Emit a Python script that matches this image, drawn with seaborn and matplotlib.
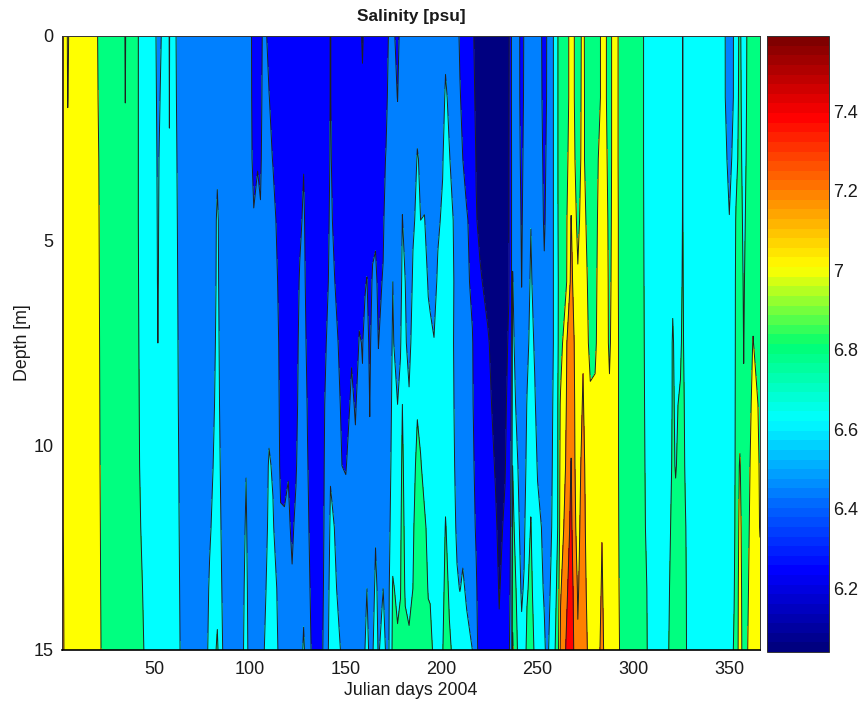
import numpy as np
import pandas as pd
import seaborn as sns
import matplotlib
matplotlib.use('Agg')
import matplotlib.pyplot as plt
from matplotlib.cm import ScalarMappable
from matplotlib.colors import Normalize, ListedColormap

# depth levels of each profile [m]
depths = [0, 1.5, 3, 4.5, 6, 7.5, 9, 10.5, 12, 13.5, 15]

# salinity profiles, one row per day
profiles = [
    (2, [7.25, 7.25, 7.25, 7.25, 7.25, 7.25, 7.25, 7.25, 7.25, 7.28, 7.3]),
    (4, [7.1, 7.1, 7.1, 7.1, 7.1, 7.1, 7.1, 7.1, 7.1, 7.1, 7.1]),
    (5, [6.97, 6.99, 7.05, 7.1, 7.1, 7.1, 7.1, 7.1, 7.1, 7.1, 7.1]),
    (7, [7.1, 7.1, 7.1, 7.1, 7.1, 7.1, 7.1, 7.1, 7.1, 7.1, 7.1]),
    (20, [7.02, 7.03, 7.05, 7.06, 7.07, 7.08, 7.09, 7.1, 7.12, 7.14, 7.17]),
    (24, [6.88, 6.88, 6.88, 6.88, 6.88, 6.88, 6.88, 6.88, 6.88, 6.88, 6.88]),
    (34, [6.88, 6.88, 6.88, 6.88, 6.88, 6.88, 6.88, 6.88, 6.88, 6.88, 6.88]),
    (35, [6.78, 6.795, 6.85, 6.88, 6.88, 6.88, 6.88, 6.88, 6.88, 6.88, 6.88]),
    (36, [6.88, 6.88, 6.88, 6.88, 6.88, 6.88, 6.88, 6.88, 6.88, 6.88, 6.88]),
    (40, [6.865, 6.865, 6.865, 6.865, 6.865, 6.865, 6.865, 6.865, 6.865, 6.865, 6.865]),
    (44, [6.72, 6.72, 6.72, 6.72, 6.73, 6.74, 6.75, 6.76, 6.78, 6.8, 6.83]),
    (47, [6.7, 6.7, 6.7, 6.7, 6.7, 6.7, 6.7, 6.7, 6.7, 6.7, 6.7]),
    (50.5, [6.68, 6.68, 6.68, 6.68, 6.68, 6.68, 6.68, 6.68, 6.68, 6.68, 6.68]),
    (52, [6.45, 6.52, 6.56, 6.575, 6.585, 6.6, 6.66, 6.7, 6.7, 6.7, 6.7]),
    (54, [6.62, 6.66, 6.7, 6.7, 6.7, 6.7, 6.7, 6.7, 6.7, 6.7, 6.7]),
    (57, [6.7, 6.7, 6.7, 6.7, 6.7, 6.7, 6.7, 6.7, 6.7, 6.7, 6.7]),
    (58, [6.585, 6.595, 6.605, 6.64, 6.68, 6.7, 6.7, 6.7, 6.7, 6.7, 6.7]),
    (59, [6.7, 6.7, 6.7, 6.7, 6.7, 6.7, 6.7, 6.7, 6.7, 6.7, 6.7]),
    (61, [6.614, 6.62, 6.63, 6.64, 6.65, 6.66, 6.67, 6.69, 6.71, 6.74, 6.78]),
    (65, [6.5, 6.5, 6.5, 6.5, 6.5, 6.5, 6.5, 6.5, 6.5, 6.5, 6.5]),
    (76, [6.5, 6.5, 6.5, 6.5, 6.5, 6.5, 6.5, 6.5, 6.5, 6.5, 6.5]),
    (79, [6.5, 6.5, 6.5, 6.5, 6.5, 6.51, 6.53, 6.55, 6.58, 6.62, 6.65]),
    (83, [6.5, 6.5, 6.585, 6.615, 6.62, 6.63, 6.64, 6.66, 6.69, 6.74, 6.83]),
    (87, [6.5, 6.5, 6.5, 6.5, 6.5, 6.5, 6.5, 6.5, 6.5, 6.5, 6.5]),
    (95, [6.5, 6.5, 6.5, 6.5, 6.5, 6.5, 6.5, 6.5, 6.5, 6.5, 6.5]),
    (98, [6.48, 6.48, 6.48, 6.5, 6.5, 6.5, 6.53, 6.595, 6.62, 6.65, 6.68]),
    (100, [6.45, 6.45, 6.45, 6.47, 6.5, 6.5, 6.5, 6.5, 6.5, 6.5, 6.5]),
    (102, [6.33, 6.34, 6.36, 6.41, 6.45, 6.5, 6.5, 6.5, 6.5, 6.5, 6.5]),
    (104, [6.34, 6.36, 6.39, 6.44, 6.5, 6.5, 6.5, 6.5, 6.5, 6.5, 6.5]),
    (105.5, [6.34, 6.36, 6.38, 6.41, 6.5, 6.5, 6.5, 6.5, 6.5, 6.5, 6.5]),
    (107.5, [6.47, 6.47, 6.47, 6.5, 6.5, 6.5, 6.5, 6.5, 6.52, 6.56, 6.6]),
    (110, [6.33, 6.405, 6.46, 6.5, 6.5, 6.5, 6.55, 6.62, 6.64, 6.67, 6.72]),
    (112, [6.3, 6.33, 6.39, 6.47, 6.5, 6.5, 6.52, 6.58, 6.62, 6.65, 6.68]),
    (114, [6.3, 6.3, 6.33, 6.38, 6.42, 6.45, 6.47, 6.49, 6.52, 6.6, 6.64]),
    (116, [6.3, 6.3, 6.3, 6.3, 6.33, 6.35, 6.36, 6.37, 6.42, 6.5, 6.5]),
    (118, [6.3, 6.3, 6.3, 6.3, 6.3, 6.3, 6.32, 6.36, 6.42, 6.46, 6.5]),
    (120, [6.3, 6.3, 6.3, 6.3, 6.3, 6.3, 6.34, 6.39, 6.43, 6.5, 6.5]),
    (122, [6.3, 6.3, 6.3, 6.3, 6.3, 6.3, 6.31, 6.33, 6.37, 6.42, 6.5]),
    (124, [6.3, 6.3, 6.3, 6.3, 6.3, 6.3, 6.33, 6.38, 6.44, 6.5, 6.5]),
    (126, [6.3, 6.3, 6.32, 6.36, 6.42, 6.47, 6.49, 6.5, 6.5, 6.5, 6.5]),
    (128, [6.3, 6.3, 6.39, 6.43, 6.45, 6.47, 6.5, 6.5, 6.5, 6.55, 6.63]),
    (130, [6.3, 6.3, 6.3, 6.31, 6.33, 6.36, 6.39, 6.41, 6.43, 6.46, 6.5]),
    (132, [6.3, 6.3, 6.3, 6.3, 6.3, 6.3, 6.3, 6.33, 6.35, 6.37, 6.395]),
    (136, [6.3, 6.3, 6.3, 6.3, 6.3, 6.3, 6.3, 6.3, 6.3, 6.3, 6.3]),
    (138, [6.3, 6.3, 6.3, 6.3, 6.3, 6.3, 6.32, 6.34, 6.36, 6.38, 6.4]),
    (140, [6.3, 6.3, 6.3, 6.32, 6.35, 6.41, 6.48, 6.5, 6.5, 6.5, 6.5]),
    (142, [6.41, 6.41, 6.42, 6.44, 6.46, 6.49, 6.54, 6.59, 6.62, 6.66, 6.72]),
    (144, [6.3, 6.3, 6.33, 6.36, 6.41, 6.45, 6.5, 6.55, 6.6, 6.63, 6.69]),
    (146, [6.3, 6.3, 6.3, 6.31, 6.34, 6.4, 6.45, 6.5, 6.52, 6.58, 6.63]),
    (148, [6.3, 6.3, 6.3, 6.3, 6.31, 6.33, 6.36, 6.4, 6.45, 6.48, 6.58]),
    (150, [6.3, 6.3, 6.3, 6.3, 6.3, 6.3, 6.33, 6.39, 6.46, 6.5, 6.5]),
    (153, [6.3, 6.3, 6.3, 6.3, 6.32, 6.38, 6.43, 6.48, 6.5, 6.5, 6.5]),
    (155, [6.3, 6.3, 6.3, 6.3, 6.3, 6.32, 6.385, 6.43, 6.5, 6.5, 6.5]),
    (157, [6.3, 6.3, 6.3, 6.32, 6.36, 6.41, 6.46, 6.5, 6.5, 6.5, 6.5]),
    (158.7, [6.16, 6.25, 6.3, 6.3, 6.33, 6.395, 6.41, 6.5, 6.5, 6.5, 6.5]),
    (160, [6.3, 6.3, 6.3, 6.33, 6.39, 6.43, 6.46, 6.5, 6.52, 6.56, 6.6]),
    (161, [6.3, 6.3, 6.31, 6.34, 6.405, 6.45, 6.48, 6.5, 6.54, 6.6, 6.67]),
    (162.5, [6.3, 6.3, 6.3, 6.32, 6.34, 6.37, 6.395, 6.42, 6.5, 6.5, 6.55]),
    (164, [6.3, 6.3, 6.31, 6.35, 6.42, 6.47, 6.5, 6.5, 6.5, 6.52, 6.58]),
    (165.5, [6.3, 6.3, 6.33, 6.37, 6.43, 6.5, 6.5, 6.5, 6.58, 6.64, 6.7]),
    (167, [6.3, 6.3, 6.32, 6.34, 6.37, 6.395, 6.45, 6.5, 6.5, 6.56, 6.58]),
    (169.5, [6.3, 6.32, 6.36, 6.38, 6.41, 6.47, 6.5, 6.5, 6.55, 6.6, 6.67]),
    (171, [6.32, 6.36, 6.41, 6.46, 6.5, 6.5, 6.5, 6.5, 6.5, 6.56, 6.58]),
    (172.5, [6.42, 6.45, 6.5, 6.5, 6.5, 6.5, 6.5, 6.52, 6.55, 6.58, 6.6]),
    (174.5, [6.46, 6.47, 6.5, 6.54, 6.6, 6.62, 6.65, 6.68, 6.72, 6.82, 6.85]),
    (177, [6.32, 6.395, 6.47, 6.5, 6.5, 6.52, 6.6, 6.65, 6.7, 6.76, 6.83]),
    (178.5, [6.47, 6.5, 6.5, 6.5, 6.52, 6.58, 6.66, 6.72, 6.76, 6.79, 6.85]),
    (179.5, [6.5, 6.5, 6.55, 6.605, 6.65, 6.7, 6.8, 6.85, 6.88, 6.89, 6.9]),
    (181, [6.5, 6.5, 6.5, 6.55, 6.6, 6.62, 6.65, 6.7, 6.74, 6.78, 6.85]),
    (183, [6.5, 6.5, 6.5, 6.5, 6.5, 6.55, 6.62, 6.66, 6.71, 6.77, 6.82]),
    (185, [6.5, 6.5, 6.52, 6.58, 6.62, 6.66, 6.72, 6.76, 6.78, 6.8, 6.88]),
    (187.3, [6.5, 6.55, 6.61, 6.63, 6.66, 6.7, 6.79, 6.83, 6.87, 6.89, 6.9]),
    (189, [6.5, 6.52, 6.58, 6.6, 6.63, 6.68, 6.76, 6.81, 6.85, 6.88, 6.9]),
    (191, [6.5, 6.5, 6.55, 6.605, 6.65, 6.68, 6.72, 6.76, 6.82, 6.87, 6.89]),
    (193, [6.5, 6.5, 6.5, 6.55, 6.59, 6.63, 6.67, 6.72, 6.77, 6.79, 6.85]),
    (194, [6.5, 6.5, 6.5, 6.52, 6.58, 6.62, 6.66, 6.7, 6.74, 6.79, 6.83]),
    (196, [6.5, 6.5, 6.5, 6.5, 6.55, 6.605, 6.62, 6.65, 6.68, 6.72, 6.78]),
    (198, [6.5, 6.5, 6.52, 6.58, 6.62, 6.65, 6.68, 6.7, 6.7, 6.7, 6.7]),
    (200.5, [6.5, 6.52, 6.59, 6.62, 6.65, 6.67, 6.68, 6.7, 6.72, 6.75, 6.79]),
    (202, [6.55, 6.63, 6.66, 6.68, 6.7, 6.7, 6.72, 6.75, 6.81, 6.85, 6.9]),
    (204, [6.5, 6.56, 6.61, 6.65, 6.66, 6.68, 6.7, 6.7, 6.74, 6.78, 6.82]),
    (206, [6.5, 6.5, 6.54, 6.6, 6.62, 6.61, 6.62, 6.63, 6.66, 6.7, 6.78]),
    (208, [6.49, 6.5, 6.5, 6.5, 6.5, 6.5, 6.52, 6.55, 6.57, 6.62, 6.68]),
    (209.5, [6.36, 6.42, 6.47, 6.5, 6.5, 6.5, 6.5, 6.5, 6.52, 6.595, 6.7]),
    (211, [6.3, 6.33, 6.4, 6.46, 6.5, 6.5, 6.5, 6.5, 6.56, 6.62, 6.67]),
    (213, [6.3, 6.3, 6.33, 6.42, 6.43, 6.46, 6.49, 6.5, 6.5, 6.58, 6.64]),
    (216, [6.23, 6.25, 6.3, 6.33, 6.37, 6.41, 6.42, 6.44, 6.46, 6.5, 6.6]),
    (218, [6.15, 6.17, 6.19, 6.21, 6.25, 6.31, 6.32, 6.35, 6.38, 6.42, 6.46]),
    (220, [6.1, 6.12, 6.14, 6.16, 6.22, 6.27, 6.3, 6.3, 6.3, 6.3, 6.3]),
    (224, [6.1, 6.1, 6.1, 6.1, 6.15, 6.22, 6.25, 6.27, 6.28, 6.3, 6.3]),
    (228, [6.08, 6.08, 6.1, 6.1, 6.1, 6.12, 6.15, 6.19, 6.22, 6.25, 6.28]),
    (230, [6.08, 6.08, 6.08, 6.1, 6.1, 6.1, 6.12, 6.15, 6.17, 6.19, 6.22]),
    (233, [6.1, 6.1, 6.1, 6.12, 6.13, 6.15, 6.17, 6.19, 6.22, 6.26, 6.3]),
    (235, [6.16, 6.17, 6.18, 6.18, 6.19, 6.22, 6.25, 6.27, 6.3, 6.32, 6.36]),
    (236.5, [6.42, 6.42, 6.41, 6.41, 6.41, 6.42, 6.43, 6.45, 6.47, 6.5, 6.55]),
    (237, [6.45, 6.45, 6.47, 6.55, 6.61, 6.65, 6.7, 6.8, 6.85, 6.95, 7.02]),
    (239, [6.46, 6.46, 6.48, 6.5, 6.5, 6.52, 6.57, 6.65, 6.72, 6.78, 6.85]),
    (240.5, [6.42, 6.42, 6.44, 6.47, 6.5, 6.5, 6.5, 6.55, 6.6, 6.65, 6.7]),
    (241.7, [6.3, 6.31, 6.34, 6.37, 6.395, 6.45, 6.5, 6.5, 6.51, 6.57, 6.65]),
    (243, [6.42, 6.43, 6.46, 6.48, 6.5, 6.5, 6.5, 6.52, 6.56, 6.62, 6.7]),
    (244.5, [6.5, 6.5, 6.5, 6.5, 6.5, 6.55, 6.61, 6.65, 6.72, 6.78, 6.85]),
    (246.5, [6.5, 6.5, 6.52, 6.595, 6.63, 6.66, 6.69, 6.75, 6.81, 6.85, 6.88]),
    (248.5, [6.5, 6.5, 6.5, 6.5, 6.52, 6.58, 6.62, 6.65, 6.68, 6.72, 6.78]),
    (250, [6.48, 6.49, 6.5, 6.5, 6.5, 6.5, 6.54, 6.59, 6.63, 6.66, 6.7]),
    (252, [6.41, 6.42, 6.45, 6.47, 6.5, 6.5, 6.5, 6.53, 6.6, 6.63, 6.65]),
    (253.5, [6.3, 6.32, 6.34, 6.37, 6.43, 6.5, 6.5, 6.5, 6.52, 6.58, 6.63]),
    (255, [6.42, 6.42, 6.45, 6.47, 6.5, 6.5, 6.5, 6.5, 6.5, 6.52, 6.55]),
    (257, [6.5, 6.5, 6.5, 6.5, 6.5, 6.5, 6.52, 6.55, 6.58, 6.62, 6.68]),
    (258.5, [6.62, 6.62, 6.62, 6.62, 6.62, 6.62, 6.65, 6.66, 6.66, 6.7, 6.75]),
    (260.5, [6.79, 6.79, 6.79, 6.79, 6.78, 6.78, 6.79, 6.79, 6.8, 6.85, 6.9]),
    (262, [6.9, 6.9, 6.9, 6.88, 6.88, 6.9, 7.03, 7.07, 7.1, 7.18, 7.25]),
    (265, [6.95, 6.95, 6.96, 6.97, 6.98, 7.19, 7.2, 7.22, 7.28, 7.36, 7.42]),
    (267.5, [7.05, 7.05, 7.08, 7.21, 7.25, 7.28, 7.33, 7.41, 7.45, 7.5, 7.55]),
    (269.5, [6.99, 6.99, 7.0, 7.05, 7.12, 7.18, 7.19, 7.2, 7.22, 7.3, 7.33]),
    (271, [6.9, 6.9, 6.92, 6.95, 7.02, 7.05, 7.08, 7.12, 7.15, 7.18, 7.22]),
    (273.7, [7.05, 7.06, 7.06, 7.1, 7.16, 7.18, 7.22, 7.26, 7.28, 7.3, 7.32]),
    (275.5, [6.92, 6.92, 6.92, 6.98, 7.03, 7.05, 7.1, 7.14, 7.16, 7.19, 7.23]),
    (277.5, [6.88, 6.88, 6.88, 6.88, 6.9, 6.95, 7.03, 7.1, 7.1, 7.1, 7.1]),
    (280, [6.9, 6.9, 6.9, 6.92, 6.93, 6.95, 7.05, 7.1, 7.1, 7.1, 7.1]),
    (282, [6.95, 6.95, 7.02, 7.05, 7.08, 7.1, 7.1, 7.1, 7.1, 7.12, 7.16]),
    (283.6, [7.05, 7.05, 7.1, 7.1, 7.1, 7.1, 7.1, 7.12, 7.19, 7.23, 7.28]),
    (285.5, [7.02, 7.02, 7.05, 7.08, 7.08, 7.05, 7.05, 7.05, 7.06, 7.08, 7.1]),
    (287.5, [6.92, 6.92, 6.92, 6.94, 6.96, 6.98, 7.02, 7.05, 7.08, 7.1, 7.1]),
    (289.3, [7.05, 7.05, 7.05, 7.05, 7.05, 7.05, 7.05, 7.05, 7.05, 7.05, 7.05]),
    (291.5, [7.03, 7.03, 7.03, 7.04, 7.04, 7.05, 7.05, 7.05, 7.06, 7.08, 7.12]),
    (294, [6.88, 6.88, 6.88, 6.88, 6.88, 6.88, 6.88, 6.88, 6.88, 6.88, 6.88]),
    (304, [6.86, 6.86, 6.86, 6.86, 6.86, 6.86, 6.86, 6.86, 6.86, 6.86, 6.86]),
    (307, [6.72, 6.72, 6.72, 6.73, 6.74, 6.75, 6.76, 6.77, 6.78, 6.8, 6.81]),
    (309, [6.7, 6.7, 6.7, 6.7, 6.7, 6.7, 6.7, 6.7, 6.7, 6.7, 6.7]),
    (317, [6.7, 6.7, 6.7, 6.7, 6.7, 6.7, 6.7, 6.7, 6.7, 6.7, 6.7]),
    (319, [6.7, 6.7, 6.7, 6.7, 6.7, 6.72, 6.73, 6.75, 6.78, 6.81, 6.84]),
    (320.5, [6.7, 6.7, 6.7, 6.7, 6.77, 6.82, 6.82, 6.83, 6.86, 6.88, 6.88]),
    (322, [6.7, 6.7, 6.7, 6.7, 6.72, 6.75, 6.78, 6.79, 6.84, 6.88, 6.88]),
    (324.5, [6.7, 6.7, 6.72, 6.73, 6.75, 6.77, 6.82, 6.85, 6.88, 6.88, 6.88]),
    (325.7, [6.805, 6.805, 6.805, 6.81, 6.82, 6.84, 6.88, 6.88, 6.88, 6.88, 6.88]),
    (327, [6.7, 6.7, 6.7, 6.7, 6.72, 6.72, 6.75, 6.78, 6.82, 6.84, 6.85]),
    (329, [6.7, 6.7, 6.7, 6.7, 6.7, 6.7, 6.7, 6.7, 6.7, 6.7, 6.7]),
    (345, [6.7, 6.7, 6.7, 6.7, 6.7, 6.7, 6.7, 6.7, 6.7, 6.7, 6.7]),
    (347.5, [6.62, 6.62, 6.65, 6.7, 6.7, 6.7, 6.7, 6.7, 6.7, 6.7, 6.7]),
    (350, [6.48, 6.49, 6.55, 6.605, 6.66, 6.7, 6.7, 6.7, 6.7, 6.7, 6.7]),
    (352.5, [6.62, 6.62, 6.65, 6.7, 6.7, 6.7, 6.7, 6.72, 6.75, 6.79, 6.82]),
    (353.5, [6.68, 6.7, 6.74, 6.82, 6.85, 6.86, 6.88, 6.88, 6.88, 6.88, 6.88]),
    (355.5, [6.85, 6.86, 6.87, 6.88, 6.88, 6.9, 6.92, 7.02, 7.05, 7.08, 7.1]),
    (357.5, [6.65, 6.68, 6.72, 6.76, 6.785, 6.795, 6.81, 6.85, 6.9, 6.9, 6.9]),
    (360, [6.88, 6.88, 6.88, 6.88, 6.88, 6.9, 6.93, 6.96, 6.98, 7.0, 7.02]),
    (362.4, [6.88, 6.88, 6.88, 6.88, 6.92, 7.01, 7.05, 7.08, 7.1, 7.1, 7.1]),
    (364.5, [6.88, 6.88, 6.88, 6.88, 6.88, 6.92, 7.02, 7.04, 7.05, 7.06, 7.08]),
    (366, [6.88, 6.88, 6.88, 6.88, 6.88, 6.9, 6.95, 6.98, 6.99, 7.05, 7.1]),
]

levels = [5.9, 6.2, 6.4, 6.6, 6.8, 7.0, 7.2, 7.4, 7.6]
band_colors = ['#000080', '#0000ff', '#0080ff', '#00ffff', '#00ff80', '#ffff00', '#ff8000', '#ff0000']
colorbar_anchors = ['#000080', '#0000ff', '#0078ff', '#00ffff', '#00ff70', '#ffff00', '#ff8000', '#ff0000', '#800000']
x_ticks = [50, 100, 150, 200, 250, 300, 350]
y_ticks = [0, 5, 10, 15]
cbar_ticks = [6.2, 6.4, 6.6, 6.8, 7, 7.2, 7.4]
cbar_labels = ['6.2', '6.4', '6.6', '6.8', '7', '7.2', '7.4']

sns.set_theme(style='white')
plt.rcParams['font.family'] = ['Liberation Sans', 'DejaVu Sans']

days = [p[0] for p in profiles]
salinidade = pd.DataFrame([p[1] for p in profiles], index=days, columns=depths)

W, H = 864, 704
fig = plt.figure(figsize=(W / 100, H / 100), dpi=100)
ax = fig.add_axes([62 / W, 1 - 650 / H, (760 - 62) / W, (650 - 36) / H])
cax = fig.add_axes([767 / W, 1 - 652 / H, (829 - 767) / W, (652 - 36) / H])

# bands first, then the thin black contour lines on top
ax.contourf(salinidade.index, salinidade.columns, salinidade.T.values, levels=levels, colors=band_colors)
ax.contour(salinidade.index, salinidade.columns, salinidade.T.values, levels=levels[1:-1],
           colors='#202020', linewidths=0.7)
ax.set_xlim(2, 366)
ax.set_ylim(15, 0)
ax.set_xticks(x_ticks)
ax.set_yticks(y_ticks)
ax.tick_params(axis='x', direction='in', length=4, width=0.6, labelsize=13, labelcolor='#1a1a1a', pad=8)
ax.tick_params(axis='y', direction='in', length=4, width=0.6, labelsize=13, labelcolor='#1a1a1a', pad=6)
ax.set_title('Salinity [psu]', fontsize=12.4, fontweight='bold', pad=10.5, color='#1a1a1a')
ax.set_xlabel('Julian days 2004', fontsize=12.8, labelpad=3, color='#1a1a1a')
ax.set_ylabel('Depth [m]', fontsize=12.8, labelpad=2, color='#1a1a1a')

# stepped colour scale like the original colorbar
cmap = ListedColormap(sns.blend_palette(colorbar_anchors, 64))
cbar = fig.colorbar(ScalarMappable(norm=Normalize(6.04, 7.59), cmap=cmap), cax=cax)
cbar.set_ticks(cbar_ticks)
cbar.set_ticklabels(cbar_labels)
cbar.ax.tick_params(direction='in', length=3, width=0.6, labelsize=13, labelcolor='#1a1a1a', pad=3, right=True)

for a in (ax, cax):
    for s in a.spines.values():
        s.set_linewidth(0.7)
        s.set_color('#333333')
ax.spines['bottom'].set_linewidth(1.2)
ax.spines['bottom'].set_color('black')

fig.savefig('out.png', dpi=100, facecolor='white')
